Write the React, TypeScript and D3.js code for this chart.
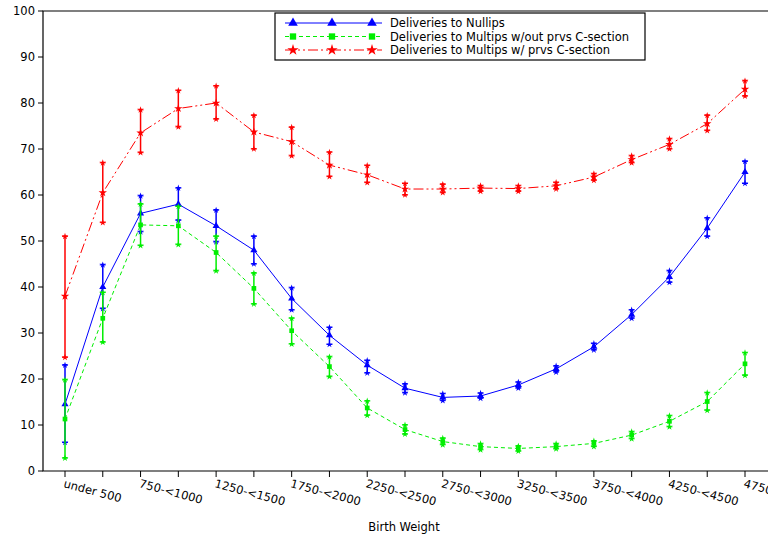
import React from 'react';
import * as d3 from 'd3';

const categories = ['under 500', '500-<750', '750-<1000', '1000-<1250', '1250-<1500', '1500-<1750', '1750-<2000', '2000-<2250', '2250-<2500', '2500-<2750', '2750-<3000', '3000-<3250', '3250-<3500', '3500-<3750', '3750-<4000', '4000-<4250', '4250-<4500', '4500-<4750', '4750+'];

const nullMean = [14.5, 40, 56, 58, 53.3, 48, 37.5, 29.5, 23, 18, 16, 16.3, 18.7, 22.2, 27, 34, 42.2, 52.8, 65];
const nullLow = [6.2, 35.3, 52, 54.5, 49.8, 45, 35, 27.5, 21.3, 17, 15.3, 15.8, 18, 21.5, 26.3, 33.2, 41, 51, 62.5];
const nullHigh = [23, 44.8, 59.8, 61.5, 56.7, 51, 39.8, 31.2, 24, 18.9, 16.8, 16.9, 19.3, 22.8, 27.7, 35, 43.5, 55, 67.3];

const multMean = [11.3, 33.2, 53.5, 53.3, 47.5, 39.7, 30.5, 22.7, 13.7, 9, 6.4, 5.3, 4.9, 5.3, 6, 7.8, 10.8, 15.1, 23.3];
const multLow = [2.8, 28, 49, 49.2, 43.5, 36.3, 27.6, 20.5, 12.1, 8, 5.7, 4.6, 4.3, 4.8, 5.3, 7, 9.6, 13.2, 20.8];
const multHigh = [19.8, 38.8, 58, 57.5, 51, 43, 33.2, 24.8, 15.2, 10, 7.1, 5.9, 5.4, 5.9, 6.5, 8.5, 12, 17, 25.7];

const csecMean = [38, 60.5, 73.5, 78.8, 80, 73.7, 71.6, 66.5, 64.4, 61.3, 61.3, 61.5, 61.4, 62, 63.9, 67.7, 71, 75.5, 83];
const csecLow = [24.7, 54, 69.2, 74.8, 76.5, 70, 68.5, 64, 62.7, 60, 60.5, 60.8, 60.8, 61.3, 63.2, 67, 70, 74, 81.5];
const csecHigh = [51, 67, 78.5, 82.7, 83.7, 77.3, 74.7, 69.3, 66.4, 62.5, 62.3, 62, 62, 62.7, 64.6, 68.5, 72.2, 77.3, 84.8];

const yTicks = [0, 10, 20, 30, 40, 50, 60, 70, 80, 90, 100];

const series = [
  { name: 'Deliveries to Nullips', color: '#0000ff', dash: '', mean: nullMean, low: nullLow, high: nullHigh, sym: d3.symbolTriangle },
  { name: 'Deliveries to Multips w/out prvs C-section', color: '#00ee00', dash: '4,3', mean: multMean, low: multLow, high: multHigh, sym: d3.symbolSquare },
  { name: 'Deliveries to Multips w/ prvs C-section', color: '#ff0000', dash: '10,3,2,3,2,3', mean: csecMean, low: csecLow, high: csecHigh, sym: d3.symbolStar },
];

const left = 43, top = 11, bottom = 471, right = 770;

export default function App() {
  const x = d3.scalePoint<string>().domain(categories).range([65, 745]);
  const y = d3.scaleLinear().domain([0, 100]).range([bottom, top]);
  const font = '"DejaVu Sans", Arial, sans-serif';

  return (
    <svg width={768} height={538} style={{ position: 'absolute', left: 0, top: 0, background: '#fff' }} fontFamily={font}>
      <path d={`M${right},${top}H${left}V${bottom}H${right}`} fill="none" stroke="#000" strokeWidth={1.2} />
      {yTicks.map(t => (
        <g key={t}>
          <line x1={left - 5} x2={left} y1={y(t)} y2={y(t)} stroke="#000" />
          <text x={left - 8} y={y(t) + 4} textAnchor="end" fontSize={11.5}>{t}</text>
        </g>
      ))}
      {categories.map((c, i) => (
        <g key={c}>
          <line x1={x(c)} x2={x(c)} y1={bottom} y2={bottom + 6} stroke="#000" />
          {i % 2 === 0 && (
            <text transform={`translate(${x(c)! - 2},${bottom + 16}) rotate(15)`} fontSize={11.5}>{c}</text>
          )}
        </g>
      ))}
      <text x={404} y={531} textAnchor="middle" fontSize={11.5}>Birth Weight</text>
      {series.map(s => {
        const line = d3.line<number>().x((_, i) => x(categories[i])!).y(v => y(v));
        const sym = d3.symbol().type(s.sym).size(22)();
        const cap = d3.symbol().type(d3.symbolStar).size(14)();
        return (
          <g key={s.name}>
            <path d={line(s.mean)!} fill="none" stroke={s.color} strokeWidth={1} strokeDasharray={s.dash} />
            {s.mean.map((m, i) => {
              const cx = x(categories[i])!;
              return (
                <g key={i}>
                  <line x1={cx} x2={cx} y1={y(s.low[i])} y2={y(s.high[i])} stroke={s.color} strokeWidth={1.5} />
                  <path d={cap} transform={`translate(${cx},${y(s.low[i])})`} fill={s.color} />
                  <path d={cap} transform={`translate(${cx},${y(s.high[i])})`} fill={s.color} />
                  <line x1={cx - 3} x2={cx + 3} y1={y(s.low[i])} y2={y(s.low[i])} stroke={s.color} />
                  <line x1={cx - 3} x2={cx + 3} y1={y(s.high[i])} y2={y(s.high[i])} stroke={s.color} />
                  <path d={sym} transform={`translate(${cx},${y(m)})`} fill={s.color} />
                </g>
              );
            })}
          </g>
        );
      })}
      <rect x={275} y={13} width={370} height={47} fill="#fff" stroke="#000" strokeWidth={1.2} />
      {series.map((s, i) => {
        const ly = 23 + i * 13.5;
        const sym = d3.symbol().type(s.sym).size(40)();
        return (
          <g key={s.name}>
            <line x1={285} x2={382} y1={ly} y2={ly} stroke={s.color} strokeDasharray={s.dash} />
            <path d={sym} transform={`translate(293,${ly})`} fill={s.color} />
            <path d={sym} transform={`translate(332,${ly})`} fill={s.color} />
            <path d={sym} transform={`translate(372,${ly})`} fill={s.color} />
            <text x={390} y={ly + 4} fontSize={11.5}>{s.name}</text>
          </g>
        );
      })}
    </svg>
  );
}
